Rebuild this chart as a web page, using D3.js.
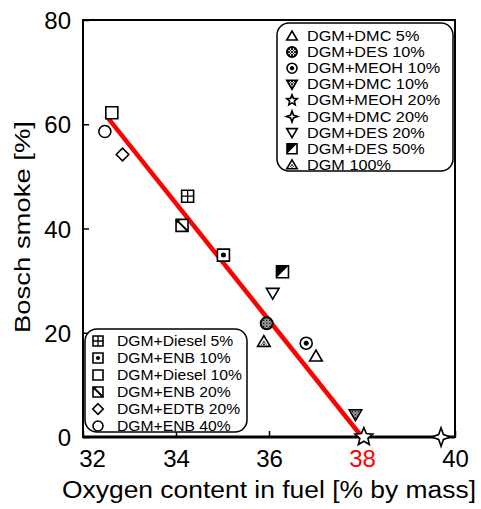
<!DOCTYPE html>
<html>
<head>
<meta charset="utf-8">
<script src="https://cdn.jsdelivr.net/npm/d3@7"></script>
<style>
  body { margin: 0; background: #fff; }
  svg { display: block; font-family: "Liberation Sans", Arial, sans-serif; }
</style>
</head>
<body>
<script>
// data
const xTicks = [32, 34, 36, 38, 40];
const yTicks = [0, 20, 40, 60, 80];

const topLegend = ['DGM+DMC 5%', 'DGM+DES 10%', 'DGM+MEOH 10%', 'DGM+DMC 10%', 'DGM+MEOH 20%',
  'DGM+DMC 20%', 'DGM+DES 20%', 'DGM+DES 50%', 'DGM 100%'];
const bottomLegend = ['DGM+Diesel 5%', 'DGM+ENB 10%', 'DGM+Diesel 10%', 'DGM+ENB 20%',
  'DGM+EDTB 20%', 'DGM+ENB 40%'];

const pointSeries = ['DGM+Diesel 10%', 'DGM+ENB 40%', 'DGM+EDTB 20%', 'DGM+Diesel 5%', 'DGM+ENB 20%',
  'DGM+ENB 10%', 'DGM+DES 50%', 'DGM+DES 20%', 'DGM+DES 10%', 'DGM 100%', 'DGM+MEOH 10%',
  'DGM+DMC 5%', 'DGM+DMC 10%', 'DGM+MEOH 20%', 'DGM+DMC 20%'];
const oxygen = [32.62, 32.47, 32.85, 34.25, 34.13, 35.02, 36.29, 36.08, 35.95, 35.89, 36.80, 37.01, 37.86, 38.04, 39.70];
const smoke  = [62.2, 58.6, 54.2, 46.2, 40.6, 34.9, 31.7, 27.6, 21.8, 18.3, 18.0, 15.5, 4.3, 0, 0];

const fitOxygen = [32.5, 38];
const fitSmoke = [61.6, 0];

// symbol type for each series
const markOf = {
  'DGM+DMC 5%': 'triUp', 'DGM+DES 10%': 'circHatch', 'DGM+MEOH 10%': 'circDot',
  'DGM+DMC 10%': 'triDownHatch', 'DGM+MEOH 20%': 'star5', 'DGM+DMC 20%': 'star4',
  'DGM+DES 20%': 'triDown', 'DGM+DES 50%': 'sqHalf', 'DGM 100%': 'triUpHatch',
  'DGM+Diesel 5%': 'sqPlus', 'DGM+ENB 10%': 'sqDot', 'DGM+Diesel 10%': 'sq',
  'DGM+ENB 20%': 'sqSlash', 'DGM+EDTB 20%': 'diamond', 'DGM+ENB 40%': 'circ'
};

const W = 481, H = 509;
const plot = {left: 83, top: 20, right: 455, bottom: 437};

const svg = d3.select('body').append('svg').attr('width', W).attr('height', H);

// crosshatch fill
const defs = svg.append('defs');
const pat = defs.append('pattern').attr('id', 'hatch')
  .attr('width', 3).attr('height', 3).attr('patternUnits', 'userSpaceOnUse');
pat.append('rect').attr('width', 3).attr('height', 3).attr('fill', '#fff');
pat.append('path').attr('d', 'M0,0L3,3M3,0L0,3').attr('stroke', '#000').attr('stroke-width', 0.9);

const x = d3.scaleLinear().domain([32, 40]).range([plot.left, plot.right]);
const y = d3.scaleLinear().domain([0, 80]).range([plot.bottom, plot.top]);

function starPath(n, r1, r2) {
  return d3.range(n * 2).map(i => {
    const a = Math.PI * i / n - Math.PI / 2;
    const r = i % 2 ? r2 : r1;
    return (i ? 'L' : 'M') + (r * Math.cos(a)).toFixed(2) + ',' + (r * Math.sin(a)).toFixed(2);
  }).join('') + 'Z';
}

function mark(g, type, s) {
  const sw = 1.6;
  const add = tag => g.append(tag).attr('stroke', '#000').attr('stroke-width', sw).attr('fill', '#fff');
  const up = `M0,${-s}L${s * 1.05},${s * 0.8}L${-s * 1.05},${s * 0.8}Z`;
  const down = `M0,${s}L${s * 1.05},${-s * 0.8}L${-s * 1.05},${-s * 0.8}Z`;
  const sq = `M${-s},${-s}H${s}V${s}H${-s}Z`;
  switch (type) {
    case 'triUp': add('path').attr('d', up); break;
    case 'triDown': add('path').attr('d', down); break;
    case 'triDownHatch': add('path').attr('d', down).attr('fill', 'url(#hatch)'); break;
    case 'triUpHatch':
      add('path').attr('d', up);
      g.append('path').attr('d', `M0,${-s * 0.25}L${s * 0.5},${s * 0.55}L${-s * 0.5},${s * 0.55}Z`)
        .attr('fill', 'url(#hatch)');
      break;
    case 'circ': add('circle').attr('r', s); break;
    case 'circHatch': add('circle').attr('r', s).attr('fill', 'url(#hatch)').attr('stroke-width', 2); break;
    case 'circDot':
      add('circle').attr('r', s);
      add('circle').attr('r', s * 0.35).attr('fill', '#000').attr('stroke-width', 1);
      break;
    case 'star5': add('path').attr('d', starPath(5, s * 1.1, s * 0.5)); break;
    case 'star4': add('path').attr('d', starPath(4, s * 1.1, s * 0.4)); break;
    case 'diamond': add('path').attr('d', `M0,${-s * 1.05}L${s * 1.05},0L0,${s * 1.05}L${-s * 1.05},0Z`); break;
    case 'sq': add('path').attr('d', sq); break;
    case 'sqPlus':
      add('path').attr('d', sq);
      add('path').attr('d', `M0,${-s}V${s}M${-s},0H${s}`).attr('stroke-width', 1.3);
      break;
    case 'sqDot':
      add('path').attr('d', sq);
      g.append('circle').attr('r', s * 0.42).attr('fill', '#000');
      break;
    case 'sqHalf':
      add('path').attr('d', sq);
      g.append('path').attr('d', `M${-s},${-s}H${s}L${-s},${s}Z`).attr('fill', '#000');
      break;
    case 'sqSlash':
      add('path').attr('d', sq);
      g.append('path').attr('d', `M${-s},${-s}H${-s * 0.2}L${-s},${-s * 0.2}Z`).attr('fill', '#000');
      add('path').attr('d', `M${-s},${-s}L${s},${s}`).attr('stroke-width', 2);
      break;
  }
}

// frame
svg.append('rect')
  .attr('x', plot.left).attr('y', plot.top)
  .attr('width', plot.right - plot.left).attr('height', plot.bottom - plot.top)
  .attr('fill', 'none').attr('stroke', '#000').attr('stroke-width', 2);
svg.append('line')
  .attr('x1', plot.left).attr('x2', plot.right).attr('y1', plot.bottom).attr('y2', plot.bottom)
  .attr('stroke', '#000').attr('stroke-width', 3);

// axes (ticks point inward)
const xAxis = svg.append('g').attr('transform', `translate(0,${plot.bottom})`)
  .call(d3.axisBottom(x).tickValues(xTicks).tickSizeInner(-6).tickSizeOuter(0).tickPadding(13));
const yAxis = svg.append('g').attr('transform', `translate(${plot.left},0)`)
  .call(d3.axisLeft(y).tickValues(yTicks).tickSizeInner(-6).tickSizeOuter(0).tickPadding(12));
[xAxis, yAxis].forEach(a => {
  a.select('.domain').remove();
  a.selectAll('line').attr('stroke', '#000').attr('stroke-width', 1.5);
  a.selectAll('text').attr('font-size', 24).attr('fill', '#000')
    .attr('font-family', '"Liberation Sans", Arial, sans-serif');
});
xAxis.selectAll('.tick text').filter(d => d === 38).attr('fill', '#ff0000');
xAxis.selectAll('.tick text').filter(d => d === 32).attr('dx', 9);
yAxis.selectAll('.tick text').attr('dy', '0.36em');

// axis titles
svg.append('text')
  .attr('x', 269).attr('y', 498).attr('text-anchor', 'middle')
  .attr('font-size', 23).attr('textLength', 414).attr('lengthAdjust', 'spacingAndGlyphs')
  .text('Oxygen content in fuel [% by mass]');
svg.append('text')
  .attr('transform', 'translate(30,227) rotate(-90)').attr('text-anchor', 'middle')
  .attr('font-size', 22).attr('textLength', 212).attr('lengthAdjust', 'spacingAndGlyphs')
  .text('Bosch smoke [%]');

// legends
function legend(items, box, rowY, step, symX, textX, fs, stretch, s) {
  svg.append('rect')
    .attr('x', box[0]).attr('y', box[1]).attr('width', box[2]).attr('height', box[3])
    .attr('rx', 12).attr('ry', 12)
    .attr('fill', '#fff').attr('stroke', '#000').attr('stroke-width', 1.5);
  items.forEach((name, i) => {
    const yy = rowY + i * step;
    mark(svg.append('g').attr('transform', `translate(${symX},${yy})`), markOf[name], s);
    const t = svg.append('text').attr('x', textX).attr('y', yy).attr('dy', '0.36em')
      .attr('font-size', fs).text(name);
    const len = t.node().getComputedTextLength();
    t.attr('textLength', len * stretch).attr('lengthAdjust', 'spacingAndGlyphs');
  });
}
legend(topLegend, [277, 23, 176, 148], 36, 16.1, 292, 307, 14, 1.16, 5);
legend(bottomLegend, [85, 329, 162, 103], 341, 17, 98, 117, 14.5, 1.08, 5);

// fitted line
svg.append('line')
  .attr('x1', x(fitOxygen[0])).attr('y1', y(fitSmoke[0]))
  .attr('x2', x(fitOxygen[1])).attr('y2', y(fitSmoke[1]))
  .attr('stroke', '#ff0000').attr('stroke-width', 4.5);

// data points
pointSeries.forEach((name, i) => {
  const type = markOf[name];
  const s = type === 'star5' || type === 'star4' ? 8.5 : 6;
  mark(svg.append('g').attr('transform', `translate(${x(oxygen[i])},${y(smoke[i])})`), type, s);
});
</script>
</body>
</html>
